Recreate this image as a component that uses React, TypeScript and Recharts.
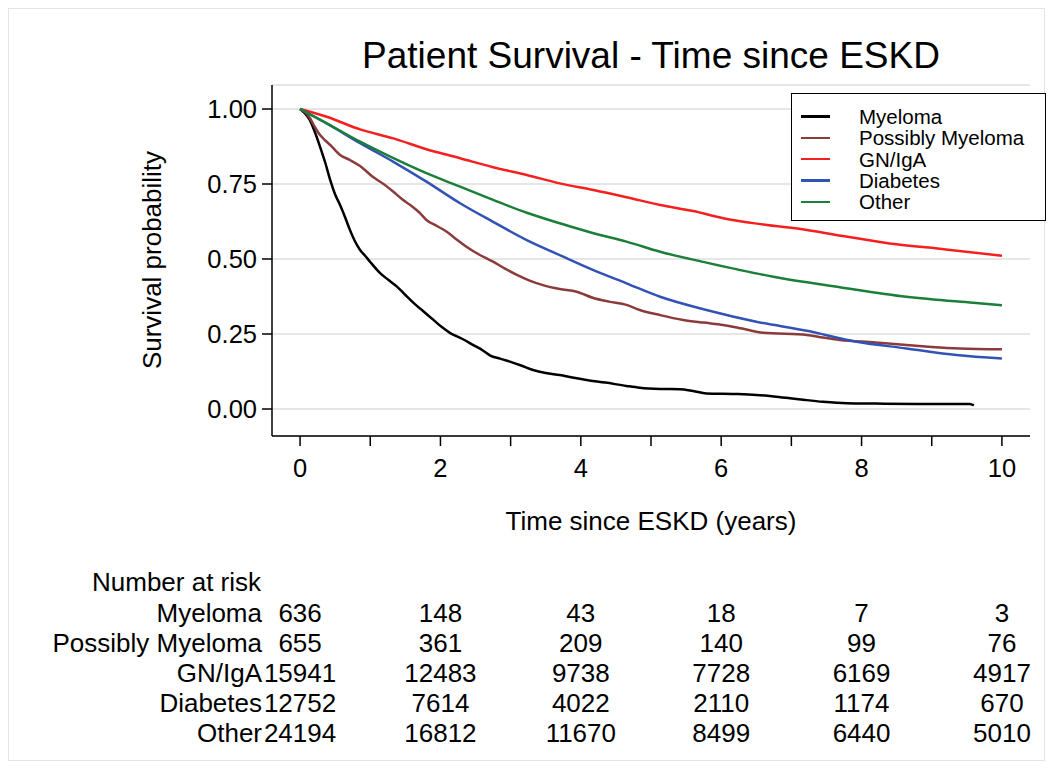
import { LineChart, Line, XAxis, YAxis, CartesianGrid, Legend, Label } from 'recharts'

const FONT = '"Liberation Sans", Arial, Helvetica, sans-serif'

// Kaplan-Meier estimates (t in years, s = survival)
const MYELOMA = [
  { t: 0, s: 1 }, { t: 0.07, s: 0.985 }, { t: 0.14, s: 0.963 }, { t: 0.2, s: 0.93 },
  { t: 0.285, s: 0.874 }, { t: 0.36, s: 0.82 }, { t: 0.43, s: 0.763 }, { t: 0.5, s: 0.715 },
  { t: 0.57, s: 0.68 }, { t: 0.64, s: 0.64 }, { t: 0.71, s: 0.597 }, { t: 0.78, s: 0.56 },
  { t: 0.855, s: 0.53 }, { t: 0.93, s: 0.51 }, { t: 1.0, s: 0.49 }, { t: 1.14, s: 0.453 },
  { t: 1.26, s: 0.43 }, { t: 1.38, s: 0.408 }, { t: 1.5, s: 0.38 }, { t: 1.62, s: 0.353 },
  { t: 1.76, s: 0.325 }, { t: 1.9, s: 0.297 }, { t: 2.02, s: 0.273 }, { t: 2.14, s: 0.253 },
  { t: 2.3, s: 0.235 }, { t: 2.47, s: 0.213 }, { t: 2.6, s: 0.196 }, { t: 2.71, s: 0.178 },
  { t: 2.85, s: 0.168 }, { t: 2.99, s: 0.158 }, { t: 3.15, s: 0.145 }, { t: 3.32, s: 0.13 },
  { t: 3.5, s: 0.12 }, { t: 3.7, s: 0.113 }, { t: 3.9, s: 0.104 }, { t: 4.08, s: 0.097 },
  { t: 4.35, s: 0.088 }, { t: 4.65, s: 0.077 }, { t: 4.84, s: 0.071 }, { t: 5.13, s: 0.067 },
  { t: 5.41, s: 0.066 }, { t: 5.6, s: 0.06 }, { t: 5.79, s: 0.052 }, { t: 6.2, s: 0.05 },
  { t: 6.5, s: 0.047 }, { t: 6.75, s: 0.042 }, { t: 6.98, s: 0.036 }, { t: 7.2, s: 0.03 },
  { t: 7.45, s: 0.024 }, { t: 7.79, s: 0.019 }, { t: 8.2, s: 0.018 }, { t: 8.8, s: 0.017 },
  { t: 9.54, s: 0.017 }, { t: 9.6, s: 0.012 },
]

const POSSIBLY_MYELOMA = [
  { t: 0, s: 1 }, { t: 0.07, s: 0.99 }, { t: 0.14, s: 0.97 }, { t: 0.21, s: 0.94 },
  { t: 0.285, s: 0.913 }, { t: 0.36, s: 0.895 }, { t: 0.43, s: 0.88 }, { t: 0.57, s: 0.847 },
  { t: 0.71, s: 0.83 }, { t: 0.855, s: 0.81 }, { t: 1.04, s: 0.773 }, { t: 1.19, s: 0.75 },
  { t: 1.33, s: 0.724 }, { t: 1.45, s: 0.7 }, { t: 1.57, s: 0.68 }, { t: 1.7, s: 0.655 },
  { t: 1.8, s: 0.63 }, { t: 1.95, s: 0.61 }, { t: 2.09, s: 0.591 }, { t: 2.23, s: 0.565 },
  { t: 2.37, s: 0.541 }, { t: 2.55, s: 0.515 }, { t: 2.75, s: 0.491 }, { t: 2.92, s: 0.468 },
  { t: 3.09, s: 0.447 }, { t: 3.27, s: 0.428 }, { t: 3.46, s: 0.413 }, { t: 3.7, s: 0.4 },
  { t: 3.94, s: 0.391 }, { t: 4.18, s: 0.37 }, { t: 4.4, s: 0.358 }, { t: 4.65, s: 0.347 },
  { t: 4.84, s: 0.33 }, { t: 5.13, s: 0.313 }, { t: 5.46, s: 0.297 }, { t: 5.75, s: 0.288 },
  { t: 6.03, s: 0.28 }, { t: 6.3, s: 0.268 }, { t: 6.6, s: 0.254 }, { t: 7.22, s: 0.247 },
  { t: 7.45, s: 0.238 }, { t: 7.69, s: 0.23 }, { t: 8.2, s: 0.222 }, { t: 8.64, s: 0.213 },
  { t: 9.0, s: 0.207 }, { t: 9.4, s: 0.202 }, { t: 10, s: 0.199 },
]

const GN_IGA = [
  { t: 0, s: 1 }, { t: 0.38, s: 0.974 }, { t: 0.855, s: 0.932 }, { t: 1.33, s: 0.902 },
  { t: 1.8, s: 0.866 }, { t: 2.28, s: 0.836 }, { t: 2.75, s: 0.806 }, { t: 3.23, s: 0.78 },
  { t: 3.7, s: 0.752 }, { t: 4.18, s: 0.73 }, { t: 4.65, s: 0.706 }, { t: 5.13, s: 0.68 },
  { t: 5.6, s: 0.66 }, { t: 6.03, s: 0.636 }, { t: 6.6, s: 0.615 }, { t: 7.22, s: 0.597 },
  { t: 7.8, s: 0.574 }, { t: 8.4, s: 0.552 }, { t: 9.2, s: 0.532 }, { t: 10, s: 0.511 },
]

const DIABETES = [
  { t: 0, s: 1 }, { t: 0.38, s: 0.952 }, { t: 0.855, s: 0.886 }, { t: 1.33, s: 0.824 },
  { t: 1.8, s: 0.758 }, { t: 2.28, s: 0.686 }, { t: 2.75, s: 0.624 }, { t: 3.23, s: 0.563 },
  { t: 3.7, s: 0.513 }, { t: 4.18, s: 0.463 }, { t: 4.65, s: 0.419 }, { t: 5.13, s: 0.374 },
  { t: 5.79, s: 0.33 }, { t: 6.5, s: 0.291 }, { t: 7.22, s: 0.261 }, { t: 7.93, s: 0.224 },
  { t: 8.64, s: 0.202 }, { t: 9.35, s: 0.18 }, { t: 10, s: 0.168 },
]

const OTHER = [
  { t: 0, s: 1 }, { t: 0.38, s: 0.952 }, { t: 0.855, s: 0.891 }, { t: 1.33, s: 0.836 },
  { t: 1.8, s: 0.786 }, { t: 2.28, s: 0.741 }, { t: 2.75, s: 0.697 }, { t: 3.23, s: 0.654 },
  { t: 3.7, s: 0.619 }, { t: 4.18, s: 0.586 }, { t: 4.65, s: 0.558 }, { t: 5.13, s: 0.524 },
  { t: 5.79, s: 0.488 }, { t: 6.74, s: 0.441 }, { t: 7.69, s: 0.406 }, { t: 8.64, s: 0.374 },
  { t: 9.59, s: 0.354 }, { t: 10, s: 0.346 },
]

// number at risk table
const RISK_TIMES = [0, 2, 4, 6, 8, 10]
const RISK_MYELOMA = [636, 148, 43, 18, 7, 3]
const RISK_POSSIBLY = [655, 361, 209, 140, 99, 76]
const RISK_GN = [15941, 12483, 9738, 7728, 6169, 4917]
const RISK_DIABETES = [12752, 7614, 4022, 2110, 1174, 670]
const RISK_OTHER = [24194, 16812, 11670, 8499, 6440, 5010]

const X_TICKS = [0, 1, 2, 3, 4, 5, 6, 7, 8, 9, 10]
const Y_TICKS = [0, 0.25, 0.5, 0.75, 1]

const SERIES = [
  { name: 'Myeloma', data: MYELOMA, color: '#000000', risk: RISK_MYELOMA },
  { name: 'Possibly Myeloma', data: POSSIBLY_MYELOMA, color: '#8c3b3b', risk: RISK_POSSIBLY },
  { name: 'GN/IgA', data: GN_IGA, color: '#f42020', risk: RISK_GN },
  { name: 'Diabetes', data: DIABETES, color: '#3352b5', risk: RISK_DIABETES },
  { name: 'Other', data: OTHER, color: '#1b7f3a', risk: RISK_OTHER },
]

const X_DOMAIN = [-0.4, 10.4]

function LegendBox() {
  return (
    <div
      style={{
        boxSizing: 'border-box',
        width: 255,
        height: 128,
        border: '1.5px solid #000',
        background: '#fff',
        paddingTop: 12,
        fontFamily: FONT,
        fontSize: 20.5,
      }}
    >
      {SERIES.map((s) => (
        <div key={s.name} style={{ display: 'flex', alignItems: 'center', height: 21.3 }}>
          <span style={{ display: 'inline-block', width: 29, height: 2.5, marginLeft: 9, background: s.color }} />
          <span style={{ marginLeft: 29, lineHeight: '21px', color: '#000' }}>{s.name}</span>
        </div>
      ))}
    </div>
  )
}

export default function App() {
  const tickStyle = { fill: '#000', fontSize: 25.5, fontFamily: FONT }
  return (
    <div style={{ position: 'absolute', left: 0, top: 0, width: 1053, height: 769, background: '#fff' }}>
      <div
        style={{
          position: 'absolute', left: 8, top: 8, width: 1037, height: 753,
          border: '1px solid #e4e4e4', boxSizing: 'border-box',
        }}
      />
      <div
        style={{
          position: 'absolute', left: 272, top: 37, width: 758, textAlign: 'center',
          fontFamily: FONT, fontSize: 37, lineHeight: '37px', color: '#000',
        }}
      >
        Patient Survival - Time since ESKD
      </div>
      <div
        style={{
          position: 'absolute', left: 92, top: 569, fontFamily: FONT, fontSize: 26,
          lineHeight: '26px', color: '#000', whiteSpace: 'nowrap',
        }}
      >
        Number at risk
      </div>
      <LineChart width={1053} height={769} margin={{ top: 85, right: 23, left: 0, bottom: 21 }}>
        <CartesianGrid horizontal vertical={false} stroke="#e6e6e6" strokeWidth={2} />
        <XAxis
          type="number"
          dataKey="t"
          domain={X_DOMAIN}
          allowDataOverflow
          ticks={X_TICKS}
          interval={0}
          tickFormatter={(v) => (v % 2 === 0 ? String(v) : '')}
          tickSize={10}
          tickMargin={13}
          height={162}
          axisLine={{ stroke: '#000', strokeWidth: 1.5 }}
          tickLine={{ stroke: '#000', strokeWidth: 1.5 }}
          tick={tickStyle}
        >
          <Label
            value="Time since ESKD (years)"
            position="insideTop"
            offset={76}
            fill="#000"
            fontSize={26}
            fontFamily={FONT}
          />
        </XAxis>
        {SERIES.map((s, i) => (
          <XAxis
            key={s.name}
            xAxisId={`risk-${i}`}
            type="number"
            dataKey="t"
            domain={X_DOMAIN}
            allowDataOverflow
            ticks={RISK_TIMES}
            interval={0}
            tickFormatter={(v) => String(s.risk[RISK_TIMES.indexOf(v)])}
            axisLine={false}
            tickLine={false}
            tickSize={0}
            tickMargin={6}
            height={30}
            tick={{ fill: '#000', fontSize: 26, fontFamily: FONT }}
          >
            <Label value={s.name} position="left" offset={10} fill="#000" fontSize={26} fontFamily={FONT} />
          </XAxis>
        ))}
        <YAxis
          type="number"
          domain={[-0.09, 1.08]}
          allowDataOverflow
          ticks={Y_TICKS}
          interval={0}
          tickFormatter={(v) => v.toFixed(2)}
          width={272}
          tickSize={10}
          tickMargin={5}
          axisLine={{ stroke: '#000', strokeWidth: 1.5 }}
          tickLine={{ stroke: '#000', strokeWidth: 1.5 }}
          tick={tickStyle}
        >
          <Label
            content={() => (
              <text
                x={152}
                y={260}
                transform="rotate(-90 152 260)"
                textAnchor="middle"
                dominantBaseline="central"
                fill="#000"
                fontSize={26}
                fontFamily={FONT}
              >
                Survival probability
              </text>
            )}
          />
        </YAxis>
        <Legend
          layout="horizontal"
          verticalAlign="middle"
          align="center"
          wrapperStyle={{ left: 791, top: 93, width: 255, height: 128 }}
          content={() => <LegendBox />}
        />
        {SERIES.map((s) => (
          <Line
            key={s.name}
            name={s.name}
            data={s.data}
            dataKey="s"
            type="monotone"
            stroke={s.color}
            strokeWidth={2.5}
            dot={false}
            activeDot={false}
            isAnimationActive={false}
          />
        ))}
      </LineChart>
    </div>
  )
}
